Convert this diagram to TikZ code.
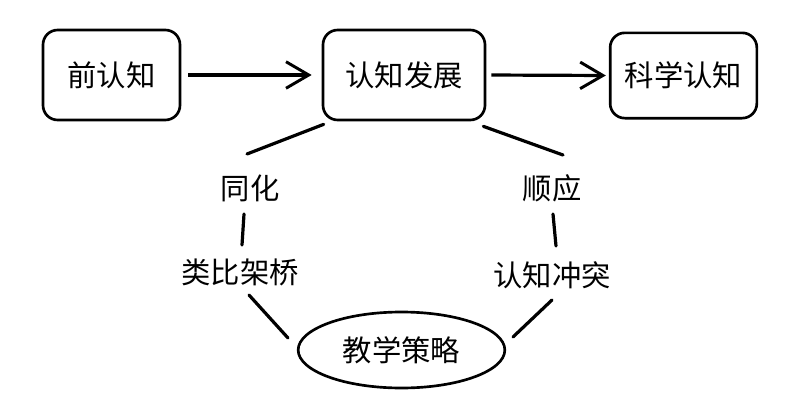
\documentclass[tikz,border=0pt]{standalone}
\usepackage{fontspec}
\setmainfont{Noto Sans CJK SC}
\usetikzlibrary{arrows.meta,positioning,shapes.geometric,calc}

\begin{document}
\begin{tikzpicture}[
    x=0.75pt, y=-0.75pt,
    box/.style={draw=black, line width=2pt, rounded corners=11pt, minimum height=67.5pt, align=center, font=\fontsize{22}{26}\selectfont},
    oval/.style={draw=black, ellipse, line width=2pt, minimum width=155pt, minimum height=57pt, font=\fontsize{22}{26}\selectfont},
    stage/.style={inner sep=0pt, font=\fontsize{22}{26}\selectfont},
    arrow/.style={-{Straight Barb[length=6mm, width=7mm, line width=2.2pt]}, line width=2.4pt},
    link/.style={line width=2.4pt, line cap=round}
]
\useasboundingbox (0,0) rectangle (804,414);
\node[box, minimum width=102.75pt] (pre) at (111.5,75) {前认知};
\node[box, minimum width=121.5pt] (dev) at (404,75) {认知发展};
\node[box, minimum width=110pt, minimum height=64pt] (sci) at (683.5,75.5) {科学认知};
\node[stage] (assim) at (250,188) {同化};
\node[stage] (accom) at (552,188) {顺应};
\node[stage] (analog) at (240,272) {类比架桥};
\node[stage] (conflict) at (552,275) {认知冲突};
\node[oval] (strat) at (401.5,350) {教学策略};
% arrows along the top
\draw[arrow, shorten <=5.25pt, shorten >=7.5pt] (pre.east) -- (dev.west);
\draw[arrow, shorten <=3.75pt, shorten >=2.25pt] (dev.east) -- (sci.west);
% left branch
\draw[link] ($(dev.south west)+(2,3)$) -- ($(assim.center)+(-3,-34)$);
\draw[link] ($(assim.center)+(-6,26)$) -- ($(analog.center)+(2,-27)$);
\draw[link] ($(analog.center)+(9,23)$) -- ($(strat.center)+(-113.5,-12)$);
% right branch
\draw[link] ($(dev.south east)+(-3,5)$) -- ($(accom.center)+(11,-33)$);
\draw[link] ($(accom.center)+(1,26)$) -- ($(conflict.center)+(4,-29)$);
\draw[link] ($(conflict.center)+(0,25)$) -- ($(strat.center)+(111.5,-13)$);
\end{tikzpicture}
\end{document}
